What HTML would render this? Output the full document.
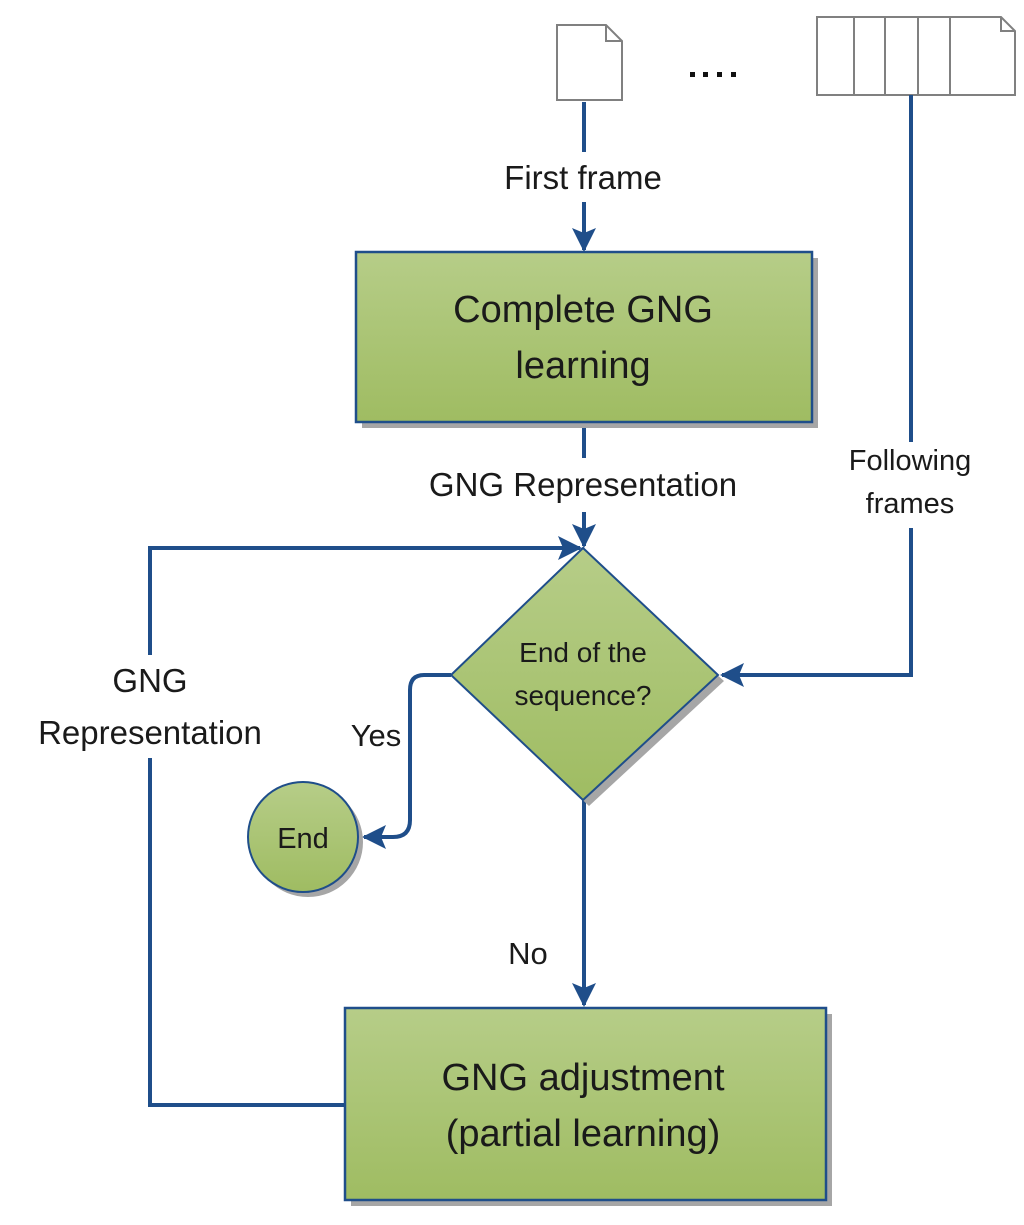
<!DOCTYPE html>
<html><head><meta charset="utf-8"><style>html,body{margin:0;padding:0;background:#fff;}svg{display:block}</style></head>
<body>
<svg width="1024" height="1225" viewBox="0 0 1024 1225" xmlns="http://www.w3.org/2000/svg" font-family="Liberation Sans, DejaVu Sans, sans-serif">
<defs>
<linearGradient id="g" x1="0" y1="0" x2="0" y2="1"><stop offset="0" stop-color="#b6cd88"/><stop offset="1" stop-color="#9fbc62"/></linearGradient>
<marker id="a" markerWidth="24" markerHeight="24" refX="22" refY="12" orient="auto" markerUnits="userSpaceOnUse" viewBox="0 0 24 24"><path d="M0,0 L24,12 L0,24 L5,12 z" fill="#1f4e8a"/></marker>
</defs>
<!-- pages -->
<path d="M557,25 L606,25 L622,41 L622,100 L557,100 z" fill="#fff" stroke="#808080" stroke-width="2"/>
<path d="M606,25 L606,41 L622,41" fill="none" stroke="#808080" stroke-width="2"/>
<g fill="#111"><rect x="690" y="72" width="5" height="5"/><rect x="703" y="72" width="5" height="5"/><rect x="717" y="72" width="5" height="5"/><rect x="731" y="72" width="5" height="5"/></g>
<path d="M817,17 L1001,17 L1015,31 L1015,95 L817,95 z" fill="#fff" stroke="#808080" stroke-width="2"/>
<path d="M1001,17 L1001,31 L1015,31" fill="none" stroke="#808080" stroke-width="2"/>
<g stroke="#808080" stroke-width="2"><line x1="854" y1="17" x2="854" y2="95"/><line x1="885" y1="17" x2="885" y2="95"/><line x1="918" y1="17" x2="918" y2="95"/><line x1="950" y1="17" x2="950" y2="95"/></g>
<!-- connectors -->
<g stroke="#1f4e8a" stroke-width="4" fill="none">
<line x1="584" y1="102" x2="584" y2="152"/>
<line x1="584" y1="202" x2="584" y2="250" marker-end="url(#a)"/>
<line x1="584" y1="422" x2="584" y2="458"/>
<line x1="584" y1="512" x2="584" y2="546" marker-end="url(#a)"/>
<polyline points="911,95 911,442"/>
<polyline points="911,528 911,675 722,675" marker-end="url(#a)"/>
<polyline points="346,1105 150,1105 150,758"/>
<polyline points="150,655 150,548 580,548" marker-end="url(#a)"/>
<path d="M451,675 L424,675 Q410,675 410,690 L410,820 Q410,837 393,837 L364,837" marker-end="url(#a)"/>
<line x1="584" y1="800" x2="584" y2="1005" marker-end="url(#a)"/>
</g>
<!-- shapes -->
<rect x="362" y="258" width="456" height="170" fill="#a6a6a6"/>
<rect x="356" y="252" width="456" height="170" fill="url(#g)" stroke="#1f4e8a" stroke-width="2.5"/>
<path d="M583,554 L724,681 L589,806 L457,681 z" fill="#a6a6a6"/>
<path d="M583,548 L718,675 L583,800 L451,675 z" fill="url(#g)" stroke="#1f4e8a" stroke-width="2"/>
<circle cx="308" cy="842" r="55" fill="#a6a6a6"/>
<circle cx="303" cy="837" r="55" fill="url(#g)" stroke="#1f4e8a" stroke-width="2"/>
<rect x="351" y="1014" width="481" height="192" fill="#a6a6a6"/>
<rect x="345" y="1008" width="481" height="192" fill="url(#g)" stroke="#1f4e8a" stroke-width="2.5"/>
<!-- text -->
<g fill="#1a1a1a" text-anchor="middle">
<text x="583" y="189" font-size="33">First frame</text>
<text x="583" y="322" font-size="38">Complete GNG</text>
<text x="583" y="378" font-size="38">learning</text>
<text x="583" y="496" font-size="33">GNG Representation</text>
<text x="583" y="662" font-size="28">End of the</text>
<text x="583" y="705" font-size="28">sequence?</text>
<text x="910" y="470" font-size="29">Following</text>
<text x="910" y="513" font-size="29">frames</text>
<text x="150" y="692" font-size="33">GNG</text>
<text x="150" y="744" font-size="33">Representation</text>
<text x="376" y="746" font-size="31">Yes</text>
<text x="303" y="848" font-size="29">End</text>
<text x="528" y="964" font-size="31">No</text>
<text x="583" y="1090" font-size="38">GNG adjustment</text>
<text x="583" y="1146" font-size="38">(partial learning)</text>
</g>
</svg>
</body></html>
